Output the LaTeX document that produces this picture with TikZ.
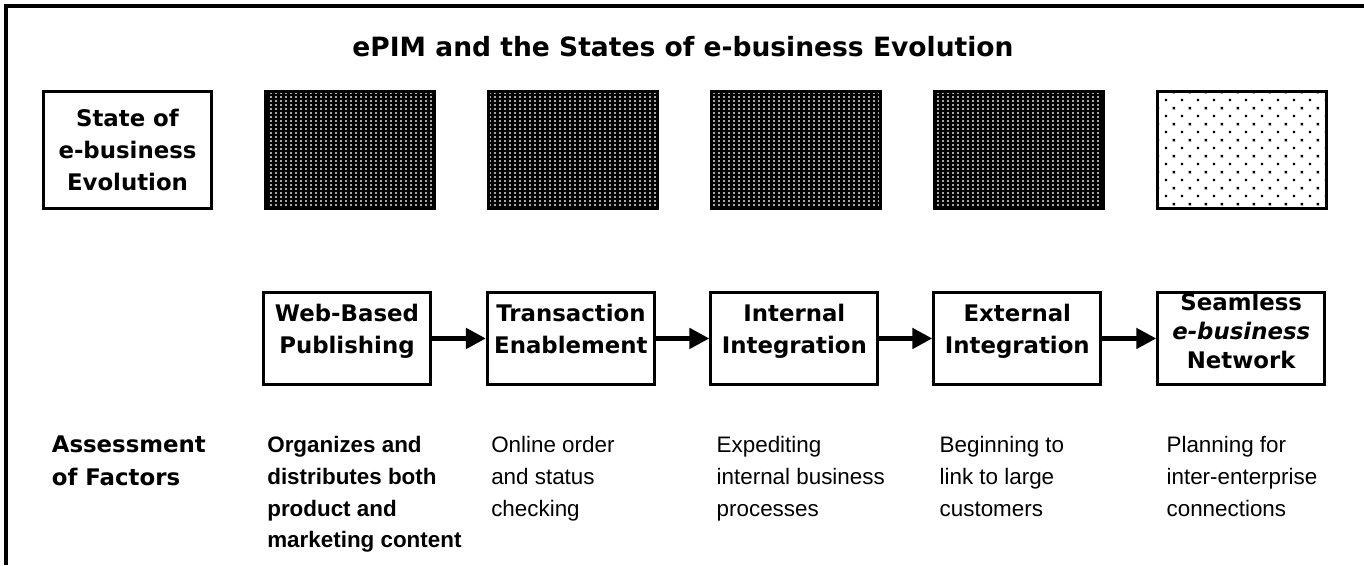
\documentclass[tikz,border=0pt]{standalone}
\usepackage{fontspec}
\setmainfont{Liberation Sans}
\newfontfamily\stagefont{DejaVu Sans}
\usetikzlibrary{positioning,patterns,arrows.meta}

% fill patterns for the state boxes
\pgfdeclarepatternformonly{finegrid}{\pgfqpoint{0pt}{0pt}}{\pgfqpoint{2.55pt}{2.27pt}}{\pgfqpoint{2.55pt}{2.27pt}}{%
\pgfpathrectangle{\pgfqpoint{0.8pt}{0.7pt}}{\pgfqpoint{0.9pt}{0.9pt}}\pgfusepath{fill}}
\pgfdeclarepatternformonly{sparsedots}{\pgfqpoint{0pt}{0pt}}{\pgfqpoint{9.07pt}{9.07pt}}{\pgfqpoint{9.07pt}{9.07pt}}{%
\pgfpathrectangle{\pgfqpoint{1pt}{1pt}}{\pgfqpoint{1.3pt}{1.3pt}}%
\pgfpathrectangle{\pgfqpoint{5.535pt}{5.535pt}}{\pgfqpoint{1.3pt}{1.3pt}}\pgfusepath{fill}}

\tikzset{
frameline/.style={line width=2pt},
headline/.style={font=\stagefont\bfseries\fontsize{15.1}{18}\selectfont},
statebox/.style={draw=black,line width=1.7pt,minimum width=3.38cm,minimum height=2.34cm,inner sep=0pt},
labelbox/.style={statebox,align=center,font=\stagefont\bfseries\fontsize{13}{18.4}\selectfont},
reached/.style={statebox,preaction={fill=black},pattern=finegrid,pattern color=white},
planned/.style={statebox,preaction={fill=white},pattern=sparsedots,pattern color=black},
stagebox/.style={draw=black,line width=1.7pt,minimum width=3.34cm,minimum height=1.84cm,inner sep=0pt,text depth=11pt,align=center,font=\stagefont\bfseries\fontsize{13}{18.4}\selectfont},
nextstage/.style={-{Triangle[length=4mm,width=4mm]},line width=2.8pt},
factor/.style={anchor=north west,inner sep=0pt,align=left,font=\fontsize{12.75}{18.1}\selectfont},
factorbold/.style={factor,font=\bfseries\fontsize{12.75}{18.1}\selectfont},
factorhead/.style={factor,font=\stagefont\bfseries\fontsize{13}{18.7}\selectfont}
}

\begin{document}
\begin{tikzpicture}[x=0.02cm,y=-0.02cm,node distance=1.02cm and 1.02cm]
\useasboundingbox (0,0) rectangle (1364,565);
\draw[frameline] (1364,6) -- (6,6) -- (6,565);
\node[headline] (title) at (683,47) {ePIM and the States of e-business Evolution};

% state row
\node[labelbox] (state) at (127.5,150) {State of\\e-business\\Evolution};
\node[reached,right=of state] (s1) {};
\node[reached,right=of s1] (s2) {};
\node[reached,right=of s2] (s3) {};
\node[reached,right=of s3] (s4) {};
\node[planned,right=of s4] (s5) {};

% stages
\node[stagebox,below=1.62cm of s1,xshift=-0.07cm] (web) {Web-Based\\Publishing};
\node[stagebox,below=1.62cm of s2,xshift=-0.05cm] (trans) {Transaction\\Enablement};
\node[stagebox,below=1.62cm of s3,xshift=-0.04cm] (intern) {Internal\\Integration};
\node[stagebox,below=1.62cm of s4,xshift=-0.04cm] (extern) {External\\Integration};
\node[stagebox,below=1.62cm of s5,xshift=-0.02cm,text depth=9pt,font=\stagefont\bfseries\fontsize{13}{16.4}\selectfont] (net) {Seamless\\\textit{e-business}\\Network};
\draw[nextstage] (web) -- (trans);
\draw[nextstage] (trans) -- (intern);
\draw[nextstage] (intern) -- (extern);
\draw[nextstage] (extern) -- (net);

% assessment row
\coordinate (factorrow) at ([yshift=-1cm]web.south);
\node[factorhead,xshift=0.2cm] (assess) at (state.west |- factorrow) {Assessment\\of Factors};
\node[factorbold] (f1) at ([xshift=0.1cm,yshift=-1cm]web.south west) {Organizes and\\distributes both\\product and\\marketing content};
\node[factor] (f2) at ([xshift=0.1cm,yshift=-1cm]trans.south west) {Online order\\and status\\checking};
\node[factor] (f3) at ([xshift=0.14cm,yshift=-1cm]intern.south west) {Expediting\\internal business\\processes};
\node[factor] (f4) at ([xshift=0.14cm,yshift=-1cm]extern.south west) {Beginning to\\link to large\\customers};
\node[factor] (f5) at ([xshift=0.2cm,yshift=-1cm]net.south west) {Planning for\\inter-enterprise\\connections};
\end{tikzpicture}
\end{document}
